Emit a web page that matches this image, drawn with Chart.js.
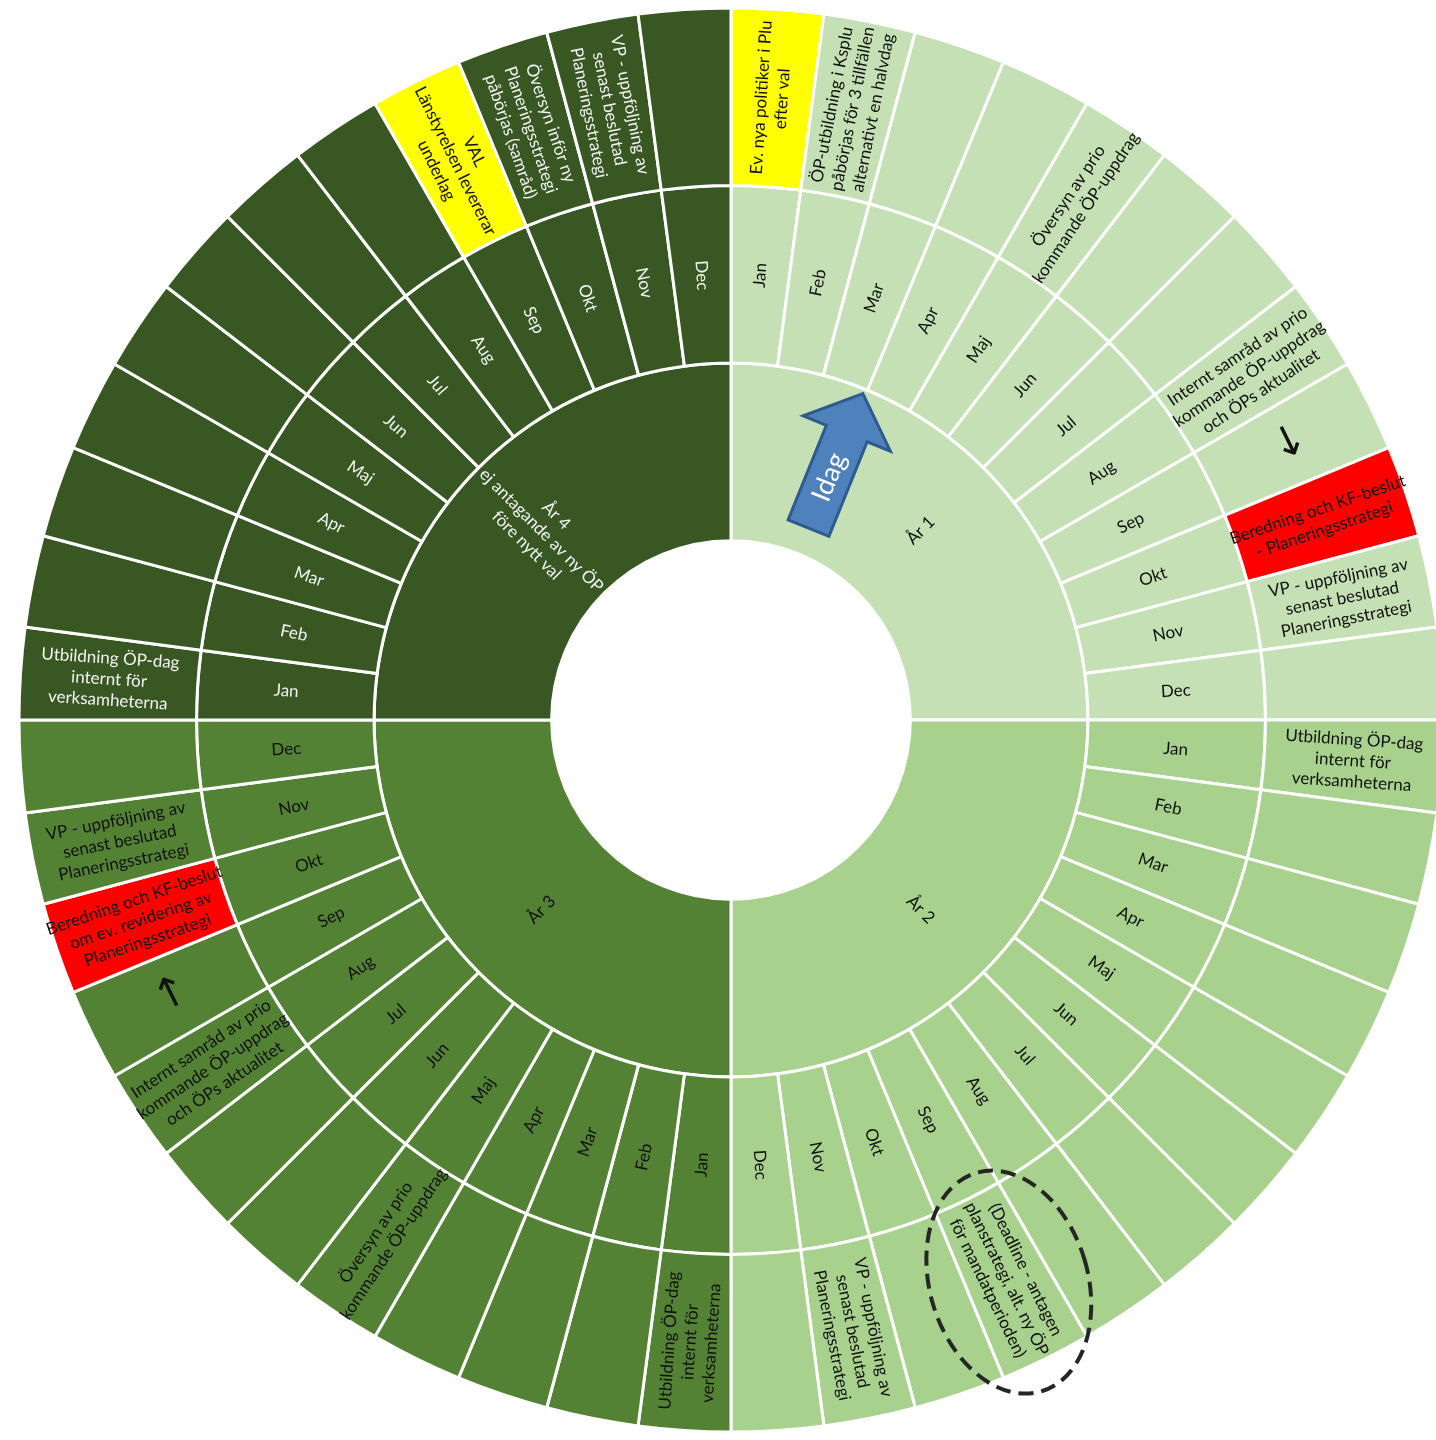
<!DOCTYPE html>
<html lang="sv">
<head>
<meta charset="utf-8">
<title>Årshjul ÖP</title>
<script src="https://cdn.jsdelivr.net/npm/chart.js@4"></script>
<style>
html, body { margin: 0; padding: 0; overflow: hidden; background: #fff; }
#wrap { position: absolute; left: 0; top: 0; width: 1462px; height: 1440px; }
</style>
</head>
<body>
<div id="wrap"><canvas id="wheel"></canvas></div>
<script>
// --- data ---
const years = ["År 1", "År 2", "År 3", "År 4\nej antagande av ny ÖP\nföre nytt val"];
const yearValues = [12, 12, 12, 12];

const months = ["Jan", "Feb", "Mar", "Apr", "Maj", "Jun", "Jul", "Aug", "Sep", "Okt", "Nov", "Dec"];
const monthValues = [1, 1, 1, 1, 1, 1, 1, 1, 1, 1, 1, 1];

const activitiesYear1 = [
    "Ev. nya politiker i Plu\nefter val",
    "ÖP-utbildning i Ksplu\npåbörjas för 3 tillfällen\nalternativt en halvdag",
    "", "",
    "Översyn av prio\nkommande ÖP-uppdrag",
    "", "",
    "Internt samråd av prio\nkommande ÖP-uppdrag\noch ÖPs aktualitet",
    "↓",
    "Beredning och KF-beslut\n- Planeringsstrategi",
    "VP - uppföljning av\nsenast beslutad\nPlaneringsstrategi",
    ""
];
const activitiesYear2 = [
    "Utbildning ÖP-dag\ninternt för\nverksamheterna",
    "", "", "", "", "", "", "",
    "(Deadline - antagen\nplanstrategi, alt. ny ÖP\nför mandatperioden)",
    "",
    "VP - uppföljning av\nsenast beslutad\nPlaneringsstrategi",
    ""
];
const activitiesYear3 = [
    "Utbildning ÖP-dag\ninternt för\nverksamheterna",
    "", "", "",
    "Översyn av prio\nkommande ÖP-uppdrag",
    "", "",
    "Internt samråd av prio\nkommande ÖP-uppdrag\noch ÖPs aktualitet",
    "↑",
    "Beredning och KF-beslut\nom ev. revidering av\nPlaneringsstrategi",
    "VP - uppföljning av\nsenast beslutad\nPlaneringsstrategi",
    ""
];
const activitiesYear4 = [
    "Utbildning ÖP-dag\ninternt för\nverksamheterna",
    "", "", "", "", "", "", "",
    "VAL\nLänstyrelsen levererar\nunderlag",
    "Översyn inför ny\nPlaneringsstrategi\npåbörjas (samråd)",
    "VP - uppföljning av\nsenast beslutad\nPlaneringsstrategi",
    ""
];
const activities = [activitiesYear1, activitiesYear2, activitiesYear3, activitiesYear4];

// --- styles ---
const yearColors = ["#C5E0B4", "#A9D18E", "#548235", "#385723"];
const yearTextColors = ["#111", "#111", "#111", "#f2f2f2"];
const markColors = { "0-0": "#FFFF00", "0-9": "#FF0000", "2-9": "#FF0000", "3-8": "#FFFF00" };

Chart.defaults.font.family = "Lato, 'Open Sans', sans-serif";

let monthLabels = [], monthData = [], monthBg = [], monthText = [], monthTextColor = [];
let actData = [], actBg = [], actText = [], actTextColor = [];

years.forEach(function(y, yi){
    months.forEach(function(m, mi){
        monthLabels.push(m);
        monthData.push(monthValues[mi]);
        monthBg.push(yearColors[yi]);
        monthText.push(m);
        monthTextColor.push(yearTextColors[yi]);

        let mark = markColors[yi + "-" + mi];
        actData.push(monthValues[mi]);
        actBg.push(mark || yearColors[yi]);
        actText.push(activities[yi][mi]);
        actTextColor.push(mark ? "#111" : yearTextColors[yi]);
    });
});

const wheelLabels = {
    id: "wheelLabels",
    afterDatasetsDraw(chart){
        const ctx = chart.ctx;
        chart.data.datasets.forEach(function(ds, di){
            const meta = chart.getDatasetMeta(di);
            meta.data.forEach(function(arc, i){
                const text = ds.texts[i];
                if(!text) return;
                const p = arc.getProps(["x", "y", "startAngle", "endAngle", "innerRadius", "outerRadius"], true);
                const a = (p.startAngle + p.endAngle) / 2;
                const r = (p.innerRadius + p.outerRadius) / 2;
                const arrow = text === "↓" || text === "↑";
                ctx.save();
                ctx.translate(p.x + r * Math.cos(a), p.y + r * Math.sin(a));
                ctx.rotate(Math.cos(a) >= 0 ? a : a + Math.PI);
                ctx.fillStyle = ds.textColors[i];
                ctx.font = arrow ? "42px 'DejaVu Sans'" : "17px Lato";
                ctx.textAlign = "center";
                ctx.textBaseline = "middle";
                const lines = text.split("\n");
                lines.forEach(function(line, k){
                    ctx.fillText(line, 0, (k - (lines.length - 1) / 2) * 21);
                });
                ctx.restore();
            });
        });
    },
    afterDraw(chart){
        const ctx = chart.ctx;
        const arc = chart.getDatasetMeta(2).data[0];
        const cx = arc.x, cy = arc.y;

        // "Idag" arrow
        const th = 22 * Math.PI / 180;
        const a = th - Math.PI / 2;
        const ux = Math.cos(a), uy = Math.sin(a);
        const vx = -uy, vy = ux;
        function pt(r, w){ return [cx + ux * r + vx * w, cy + uy * r + vy * w]; }
        const shape = [pt(207, -22), pt(309, -22), pt(309, -47), pt(352, 0), pt(309, 47), pt(309, 22), pt(207, 22)];
        ctx.save();
        ctx.beginPath();
        shape.forEach(function(q, k){ k ? ctx.lineTo(q[0], q[1]) : ctx.moveTo(q[0], q[1]); });
        ctx.closePath();
        ctx.fillStyle = "#4F81BD";
        ctx.fill();
        ctx.lineWidth = 3;
        ctx.strokeStyle = "#2F5A8F";
        ctx.stroke();
        const tp = pt(262, 0);
        ctx.translate(tp[0], tp[1]);
        ctx.rotate(a);
        ctx.fillStyle = "#fff";
        ctx.font = "27px Lato";
        ctx.textAlign = "center";
        ctx.textBaseline = "middle";
        ctx.fillText("Idag", 0, 0);
        ctx.restore();

        // dashed ring round the deadline
        const et = 153.7 * Math.PI / 180 - Math.PI / 2;
        ctx.save();
        ctx.beginPath();
        ctx.ellipse(cx + 627 * Math.cos(et), cy + 627 * Math.sin(et), 79, 114, -16.7 * Math.PI / 180, 0, Math.PI * 2);
        ctx.setLineDash([15, 8]);
        ctx.lineWidth = 4;
        ctx.strokeStyle = "#262626";
        ctx.stroke();
        ctx.restore();
    }
};

new Chart(document.getElementById("wheel"), {
    type: "doughnut",
    data: {
        labels: monthLabels,
        datasets: [
            {
                label: "Aktivitet",
                data: actData,
                backgroundColor: actBg,
                texts: actText,
                textColors: actTextColor
            },
            {
                label: "Månad",
                data: monthData,
                backgroundColor: monthBg,
                texts: monthText,
                textColors: monthTextColor
            },
            {
                label: "År",
                data: yearValues,
                backgroundColor: yearColors,
                texts: years,
                textColors: yearTextColors
            }
        ]
    },
    options: {
        responsive: true,
        maintainAspectRatio: false,
        animation: false,
        events: [],
        radius: 712,
        cutout: 181,
        rotation: 0,
        borderColor: "#fff",
        borderWidth: 3,
        layout: { padding: 0 },
        plugins: {
            legend: { display: false },
            tooltip: { enabled: false }
        }
    },
    plugins: [wheelLabels]
});
</script>
</body>
</html>
